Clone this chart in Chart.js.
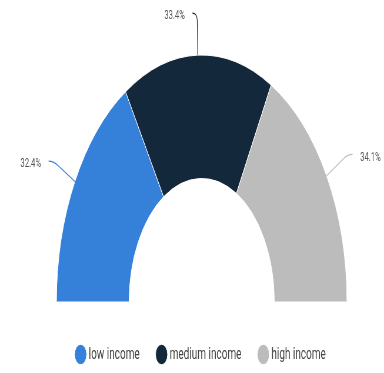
<!DOCTYPE html>
<html>
<head>
<meta charset="utf-8">
<script src="https://cdn.jsdelivr.net/npm/chart.js@4"></script>
<style>
  html, body { margin: 0; padding: 0; background: #ffffff; overflow: hidden; }
  #frame { width: 384px; height: 373px; overflow: hidden; position: relative; }
  /* the drawing surface is wider than the page and squeezed horizontally */
  #stage { position: absolute; left: 0; top: 0; height: 373px; transform-origin: 0 0; }
</style>
</head>
<body>
<div id="frame"><div id="stage"><canvas id="chart"></canvas></div></div>
<script>
const categories = ['low income', 'medium income', 'high income'];
const shares = [32.4, 33.4, 34.1];
const colors = ['#3580d8', '#14283c', '#bcbcbc'];

const SQUEEZE = 1.7;                 // horizontal compression of the drawing
const stage = document.getElementById('stage');
const stageWidth = Math.round(384 * SQUEEZE);
stage.style.width = stageWidth + 'px';
stage.style.transform = 'scaleX(' + (384 / stageWidth) + ')';

// Leader lines and percentage labels around the half ring
const sliceLabels = {
  id: 'sliceLabels',
  afterDatasetsDraw(chart) {
    const ctx = chart.ctx;
    const meta = chart.getDatasetMeta(0);
    ctx.save();
    ctx.font = '13px Roboto';
    ctx.fillStyle = '#555555';
    ctx.textBaseline = 'middle';
    meta.data.forEach((arc, i) => {
      const p = arc.getProps(['x', 'y', 'startAngle', 'endAngle', 'outerRadius'], true);
      const mid = (p.startAngle + p.endAngle) / 2;
      const cos = Math.cos(mid), sin = Math.sin(mid);
      const r = p.outerRadius;
      const side = cos > 0.001 ? 1 : -1;
      const x0 = p.x + cos * r, y0 = p.y + sin * r;
      const xs = p.x + cos * (r + 34), ys = p.y + sin * (r + 34);
      const xe = p.x + cos * (r + 42), ye = p.y + sin * (r + 42);
      const xt = xe + side * 8, yt = ye;
      ctx.strokeStyle = colors[i];
      ctx.lineWidth = 1.2;
      ctx.beginPath();
      ctx.moveTo(x0, y0);
      ctx.lineTo(xs, ys);
      ctx.quadraticCurveTo(xe, ye, xt, yt);
      ctx.stroke();
      ctx.textAlign = side > 0 ? 'left' : 'right';
      ctx.fillText(shares[i].toFixed(1) + '%', xt + side * 13, yt + 3);
    });
    ctx.restore();
  }
};

new Chart(document.getElementById('chart'), {
  type: 'doughnut',
  data: {
    labels: categories,
    datasets: [{
      data: shares,
      backgroundColor: colors,
      borderColor: '#ffffff',
      borderWidth: 1,
      hoverOffset: 0
    }]
  },
  options: {
    responsive: true,
    maintainAspectRatio: false,
    animation: false,
    rotation: -90,
    circumference: 180,
    cutout: '50%',
    radius: 247,
    layout: { padding: { left: 33, top: 43, right: 0, bottom: 0 } },
    plugins: {
      tooltip: { enabled: false },
      legend: {
        position: 'bottom',
        labels: {
          font: { family: 'Roboto', size: 17 },
          color: '#444444',
          usePointStyle: true,
          pointStyle: 'circle',
          boxWidth: 10.3,
          boxHeight: 14.5,
          padding: 32
        }
      }
    }
  },
  plugins: [sliceLabels]
});
</script>
</body>
</html>
